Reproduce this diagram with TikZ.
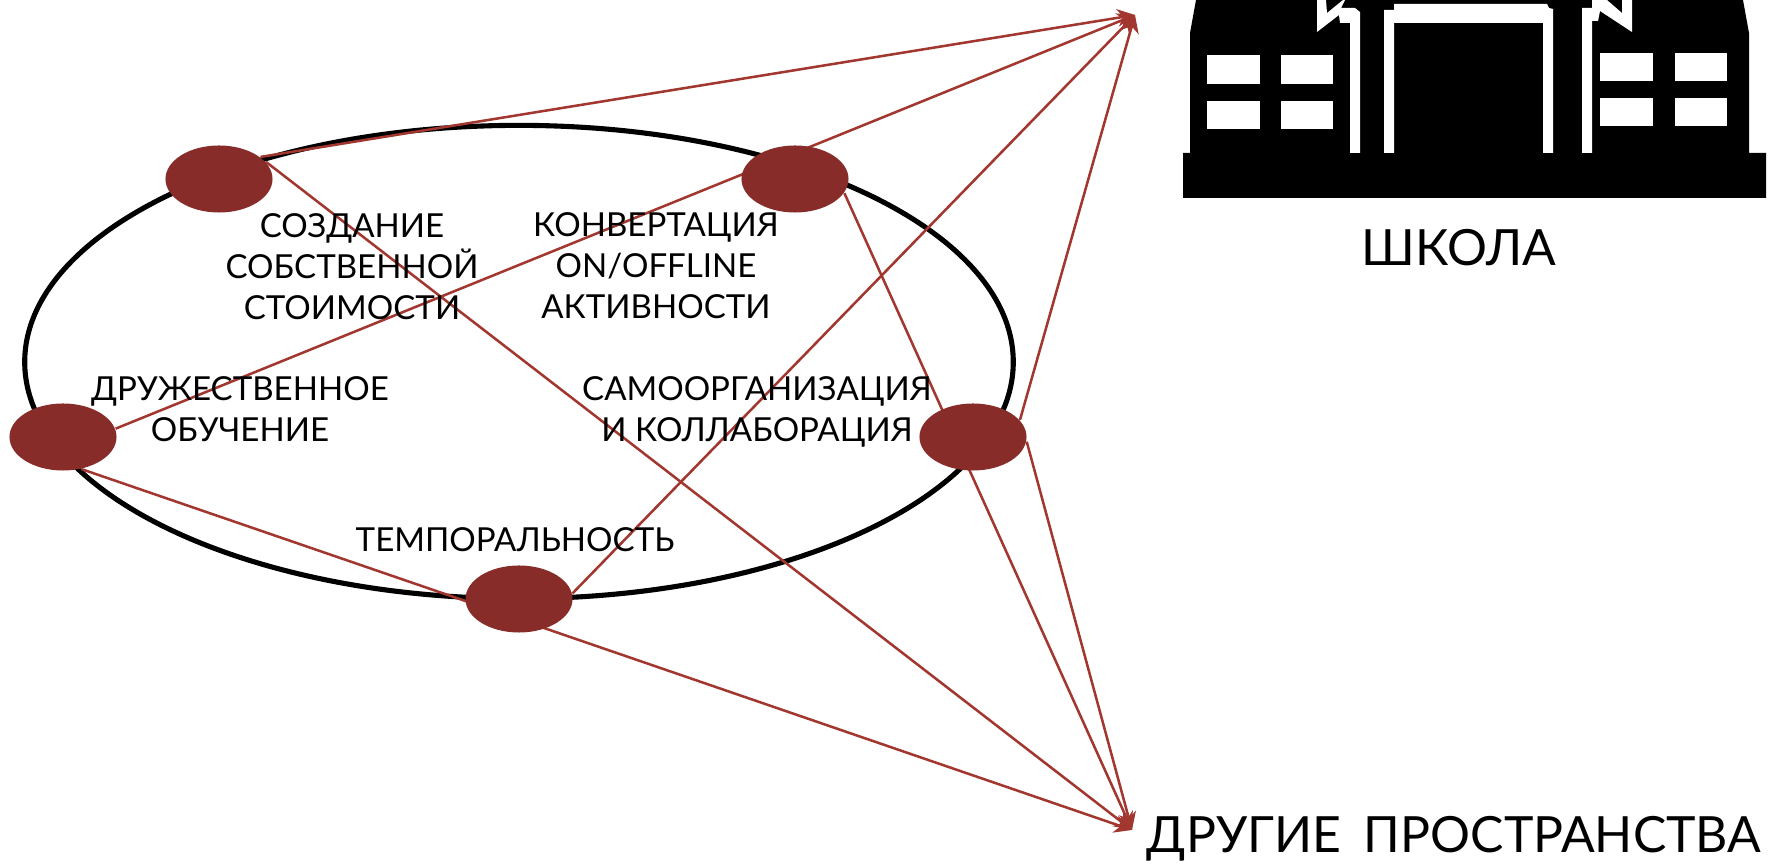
\documentclass[tikz,border=0pt]{standalone}
\usepackage{fontspec}
\setmainfont{Lato}
\usetikzlibrary{positioning}
\usetikzlibrary{shapes.geometric}
\usetikzlibrary{arrows.meta}
\usetikzlibrary{backgrounds}
\definecolor{blobred}{HTML}{872C29}
\definecolor{linkred}{HTML}{A2372F}

\begin{document}
\begin{tikzpicture}
            [
                x=0.01cm, y=-0.01cm,
                ring/.style={ellipse, draw=black, line width=1.45pt, inner sep=0, minimum width=9.88cm, minimum height=4.73cm},
                blob/.style={ellipse, fill=blobred, inner sep=0, minimum width=1.07cm, minimum height=0.67cm},
                label/.style={align=center, font=\fontsize{9.4}{11.7}\selectfont, inner sep=0},
                big/.style={font=\fontsize{14.2}{17}\selectfont, inner sep=0},
                link/.style={linkred, line width=0.72pt, -{Stealth[length=5pt,width=5pt]}}
            ]
            \useasboundingbox (0,0) rectangle (1771,864);
            %building
            \fill[black] (1183,198) -- (1183,153) -- (1190,153) -- (1190,33) -- (1196,0) -- (1743,0) -- (1749,33) -- (1749,153) -- (1766,153) -- (1766,198) -- cycle;
            \fill[white] (1384,153) -- (1384,10) -- (1394,10) -- (1394,4) -- (1547,4) -- (1549,8) -- (1553,9) -- (1553,153) -- (1543,153) -- (1543,23) -- (1394,23) -- (1394,153) -- cycle;
            \fill[white] (1317,0) -- (1326,0) -- (1327,13) -- (1343,0) -- (1345,0) -- (1341,8) -- (1355,8) -- (1360,12) -- (1360,153) -- (1350,153) -- (1350,23) -- (1340,23) -- (1339,15) -- (1317,32) -- cycle;
            \fill[white] (1582,153) -- (1582,8) -- (1592,8) -- (1592,0) -- (1607,0) -- (1622,13) -- (1622,0) -- (1632,0) -- (1632,32) -- (1600,11) -- (1598,21) -- (1592,21) -- (1592,153) -- cycle;
            \fill[white] (1207,55) rectangle (1260,84);
            \fill[white] (1281,55) rectangle (1333,84);
            \fill[white] (1207,101) rectangle (1260,129);
            \fill[white] (1281,101) rectangle (1333,129);
            \fill[white] (1600,53) rectangle (1653,81);
            \fill[white] (1675,53) rectangle (1727,81);
            \fill[white] (1600,98) rectangle (1653,126);
            \fill[white] (1675,98) rectangle (1727,126);
            %nodes
            \node[blob] at (219,179)                    (creation)      {};
            \node[blob] at (795,179)                    (conversion)    {};
            \node[blob] at (63,437)                     (learning)      {};
            \node[blob] at (973,437)                    (selforg)       {};
            \node[blob] at (519,599)                    (temporal)      {};
            \coordinate (school_tip) at (1135,15);
            \coordinate (other_tip) at (1132,830);
            \node[label] at (352,267)                   (creation_txt)  {СОЗДАНИЕ\\СОБСТВЕННОЙ\\СТОИМОСТИ};
            \node[label] at (656,266)                   (conversion_txt){КОНВЕРТАЦИЯ\\ON/OFFLINE\\АКТИВНОСТИ};
            \node[label] at (240,409)                   (learning_txt)  {ДРУЖЕСТВЕННОЕ\\ОБУЧЕНИЕ};
            \node[label] at (757,412)                   (selforg_txt)   {САМООРГАНИЗАЦИЯ\\И КОЛЛАБОРАЦИЯ};
            \node[label] at (515,540)                   (temporal_txt)  {ТЕМПОРАЛЬНОСТЬ};
            \node[big] at (1459,248)                    (school)        {ШКОЛА};
            \node[big] at (1454,839)                    (other)         {ДРУГИЕ\hspace{0.2em} ПРОСТРАНСТВА};
            %arrows
            \begin{scope}[on background layer]
            \node[ring] at (519,362)                    (cycle)         {};
            \draw[link] (creation.28) -- (school_tip);
            \draw[link] (creation.20) -- (other_tip);
            \draw[link] (learning.9) -- (school_tip);
            \draw[link] (learning.-60) -- (other_tip);
            \draw[link] (temporal.6) -- (school_tip);
            \draw[link] (conversion.-16) -- (other_tip);
            \draw[link] (selforg.20) -- (school_tip);
            \draw[link] (selforg.-5) -- (other_tip);
            \end{scope}
        \end{tikzpicture}
\end{document}
